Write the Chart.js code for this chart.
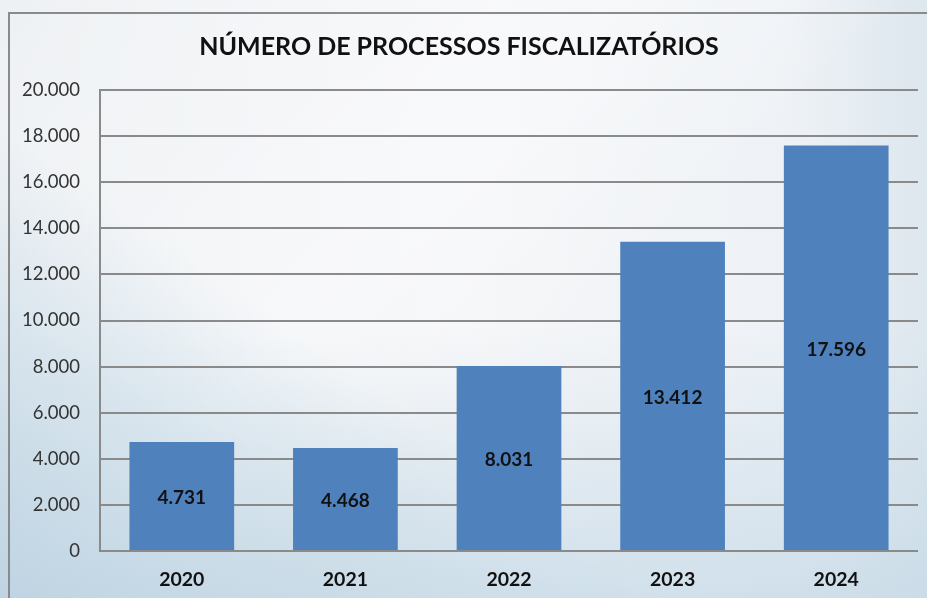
<!DOCTYPE html>
<html>
<head>
<meta charset="utf-8">
<script src="https://cdn.jsdelivr.net/npm/chart.js@4/dist/chart.umd.min.js"></script>
<style>
  html, body { margin: 0; padding: 0; }
  body {
    width: 927px; height: 598px; overflow: hidden; position: relative;
    background:
      linear-gradient(35deg, rgba(185,208,224,0.85) 0%, rgba(200,219,231,0.6) 22%, rgba(255,255,255,0) 38%),
      linear-gradient(135deg, rgba(255,255,255,0) 0%, rgba(255,255,255,0.35) 40%, rgba(255,255,255,0) 60%),
      linear-gradient(to bottom, rgba(255,255,255,0) 55%, rgba(195,216,230,0.7) 100%),
      linear-gradient(to right, #eef1f4 0%, #f5f6f8 50%, #eef2f6 85%, #dde7ee 100%);
  }
  #frame {
    position: absolute; left: 8px; top: 12px; width: 1000px; height: 1000px;
    border: 2px solid #8a8a8a; box-sizing: border-box;
  }
  #wrap { position: absolute; left: 0; top: 0; width: 927px; height: 598px; }
</style>
</head>
<body>
<div id="frame"></div>
<div id="wrap"><canvas id="fisc-chart"></canvas></div>
<script>
  const years = ['2020', '2021', '2022', '2023', '2024'];
  const processos = [4731, 4468, 8031, 13412, 17596];
  const yTicks = [0, 2000, 4000, 6000, 8000, 10000, 12000, 14000, 16000, 18000, 20000];

  function fmt(n) {
    return String(n).replace(/\B(?=(\d{3})+(?!\d))/g, '.');
  }

  const fontFam = "Lato, 'Open Sans', sans-serif";

  const barLabels = {
    id: 'barLabels',
    afterDatasetsDraw(chart) {
      const ctx = chart.ctx;
      const meta = chart.getDatasetMeta(0);
      ctx.save();
      ctx.font = "bold 19px " + fontFam;
      ctx.fillStyle = '#111';
      ctx.textAlign = 'center';
      ctx.textBaseline = 'middle';
      meta.data.forEach(function (bar, i) {
        const mid = (bar.y + bar.base) / 2;
        ctx.fillText(fmt(processos[i]), bar.x, mid + 2);
      });
      ctx.restore();
    }
  };

  new Chart(document.getElementById('fisc-chart'), {
    type: 'bar',
    data: {
      labels: years,
      datasets: [{
        data: processos,
        backgroundColor: '#4f81bd',
        borderWidth: 0,
        categoryPercentage: 1,
        barPercentage: 0.64
      }]
    },
    options: {
      responsive: true,
      maintainAspectRatio: false,
      animation: false,
      layout: { padding: { left: 0, right: 9, top: 0, bottom: 0 } },
      scales: {
        y: {
          min: 0,
          max: 20000,
          afterBuildTicks(scale) {
            scale.ticks = yTicks.map(function (v) { return { value: v }; });
          },
          afterFit(scale) { scale.width = 100; },
          border: { display: true, color: '#8a8a8a', width: 2 },
          grid: { color: '#8a8a8a', lineWidth: 2, drawTicks: false },
          ticks: {
            padding: 20,
            color: '#333',
            font: { family: fontFam, size: 18.5 },
            callback: function (v) { return fmt(v); }
          }
        },
        x: {
          afterFit(scale) { scale.height = 47; },
          border: { display: false },
          grid: { display: false, drawTicks: false },
          ticks: {
            padding: 17,
            color: '#111',
            font: { family: fontFam, size: 19.5, weight: 'bold' }
          }
        }
      },
      plugins: {
        legend: { display: false },
        tooltip: { enabled: false },
        title: {
          display: true,
          text: 'NÚMERO DE PROCESSOS FISCALIZATÓRIOS',
          color: '#111',
          font: { family: fontFam, size: 25, weight: 'bold' },
          padding: { top: 32, bottom: 28 }
        }
      }
    },
    plugins: [barLabels]
  });
</script>
</body>
</html>
